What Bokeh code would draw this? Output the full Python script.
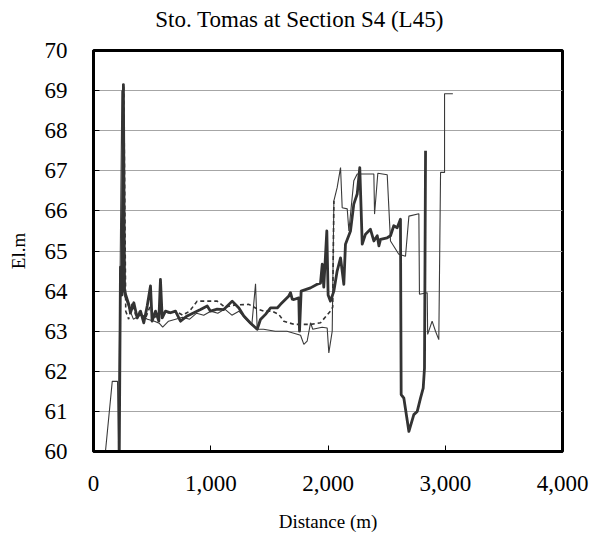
from bokeh.plotting import figure
from bokeh.models import Range1d, FixedTicker, NumeralTickFormatter, Label
from bokeh.embed import file_html
from bokeh.resources import INLINE

# ---- data ----
thin_x = [102, 160, 205, 212, 242, 262, 300, 340, 400, 460, 520, 560, 590, 640, 700, 760, 820, 880,
          940, 1000, 1060, 1120, 1180, 1240, 1300, 1350, 1382, 1396, 1450, 1550, 1650, 1709, 1766,
          1794, 1822, 1851, 1870, 1950, 1993, 2007, 2036, 2050, 2078, 2107, 2121, 2164, 2178, 2220,
          2249, 2391, 2397, 2425, 2505, 2533, 2604, 2661, 2690, 2775, 2780, 2846, 2850, 2888, 2917,
          2945, 2960, 2994, 2994, 3065]
thin_y = [60.0, 61.75, 61.75, 60.0, 69.0, 63.9, 63.6, 63.3, 63.4, 63.3, 63.25, 63.2, 63.1, 63.25,
          63.3, 63.35, 63.3, 63.45, 63.4, 63.5, 63.45, 63.55, 63.4, 63.5, 63.3, 63.15, 64.18, 63.05,
          63.05, 63.0, 63.0, 62.95, 62.9, 62.67, 62.75, 63.21, 63.05, 63.1, 63.08, 62.46, 63.0,
          66.25, 66.58, 67.08, 66.08, 66.05, 65.5, 66.75, 66.92, 66.92, 65.92, 66.94, 66.9, 65.25,
          64.92, 64.87, 65.87, 65.93, 63.92, 63.96, 62.92, 63.25, 63.0, 62.79, 66.96, 66.96,
          68.92, 68.92]

thick_x = [220, 230, 242, 255, 265, 273, 301, 315, 344, 373, 401, 429, 458, 486, 500, 529, 557, 571,
           586, 614, 657, 699, 742, 799, 856, 913, 970, 998, 1055, 1111, 1183, 1240, 1282, 1340,
           1396, 1424, 1467, 1510, 1567, 1595, 1666, 1680, 1695, 1709, 1751, 1757, 1771, 1851,
           1908, 1936, 1951, 1964, 1990, 2001, 2021, 2050, 2078, 2107, 2135, 2149, 2192, 2220,
           2249, 2271, 2292, 2320, 2362, 2391, 2420, 2434, 2448, 2505, 2533, 2561, 2590, 2618,
           2624, 2647, 2690, 2732, 2761, 2789, 2812, 2823, 2832]
thick_y = [60.0, 64.6, 63.9, 69.15, 64.0, 63.92, 63.67, 63.46, 63.71, 63.33, 63.5, 63.21, 63.63,
           64.13, 63.25, 63.5, 63.25, 64.29, 63.33, 63.5, 63.46, 63.5, 63.25, 63.38, 63.46, 63.54,
           63.63, 63.5, 63.55, 63.54, 63.75, 63.58, 63.38, 63.2, 63.05, 63.29, 63.42, 63.58, 63.58,
           63.67, 63.88, 63.96, 63.8, 63.79, 63.83, 63.0, 64.0, 64.08, 64.17, 64.2, 64.67, 64.1,
           65.5, 63.9, 63.75, 64.0, 64.5, 64.83, 64.17, 65.17, 65.5, 66.17, 66.42, 67.08, 65.17,
           65.42, 65.54, 65.25, 65.38, 65.13, 65.29, 65.33, 65.38, 65.63, 65.58, 65.79, 61.42,
           61.33, 60.5, 60.92, 61.0, 61.33, 61.58, 62.08, 67.5]

dash_x = [258, 275, 300, 330, 360, 400, 440, 480, 520, 560, 600, 650, 700, 760, 820, 884, 1055,
          1120, 1200, 1325, 1400, 1453, 1520, 1580, 1623, 1709, 1851, 1936, 2021, 2040, 2050]
dash_y = [69.1, 63.5, 63.3, 63.7, 63.4, 63.5, 63.3, 63.6, 63.35, 63.4, 63.5, 63.45, 63.5, 63.4,
          63.5, 63.75, 63.75, 63.6, 63.65, 63.67, 63.55, 63.5, 63.5, 63.42, 63.25, 63.17, 63.17,
          63.21, 63.5, 63.6, 66.25]

x_ticks = [0, 1000, 2000, 3000, 4000]
y_ticks = [60, 61, 62, 63, 64, 65, 66, 67, 68, 69, 70]
title_text = "Sto. Tomas at Section S4 (L45)"
x_label = "Distance (m)"
y_label = "El.m"

FONT = "Liberation Serif"

p = figure(width=595, height=540, output_backend="svg", toolbar_location=None,
           x_range=Range1d(0, 4000), y_range=Range1d(60, 70),
           min_border_left=93, min_border_right=33, min_border_top=50, min_border_bottom=89)
p.title = None
p.background_fill_color = "white"
p.border_fill_color = "white"
p.outline_line_color = "black"
p.outline_line_width = 3

p.xgrid.visible = False
p.ygrid.ticker = FixedTicker(ticks=y_ticks)
p.ygrid.grid_line_color = "#a6a6a6"
p.ygrid.grid_line_width = 1.2

p.xaxis.ticker = FixedTicker(ticks=x_ticks)
p.xaxis.formatter = NumeralTickFormatter(format="0,0")
p.yaxis.ticker = FixedTicker(ticks=y_ticks)

for ax in (p.xaxis, p.yaxis):
    ax.axis_line_color = "black"
    ax.axis_line_width = 3
    ax.major_tick_in = 6
    ax.major_tick_out = 0
    ax.major_tick_line_color = "black"
    ax.major_tick_line_width = 1
    ax.minor_tick_line_color = None
    ax.major_label_text_font = FONT
    ax.major_label_text_font_size = "23px"
    ax.major_label_text_color = "black"
    ax.axis_label_text_font = FONT
    ax.axis_label_text_font_size = "19px"
    ax.axis_label_text_font_style = "normal"
    ax.axis_label_text_color = "black"

p.xaxis.axis_label = x_label
p.yaxis.axis_label = y_label
p.xaxis.major_label_standoff = 24
p.xaxis.axis_label_standoff = 17
p.yaxis.major_label_standoff = 26
p.yaxis.axis_label_standoff = 13

p.line(thin_x, thin_y, line_color="#3a3a3a", line_width=1.1)
p.line(dash_x, dash_y, line_color="#333333", line_width=1.6, line_dash="4 3")
p.line(thick_x, thick_y, line_color="#333333", line_width=2.8, line_join="round")

p.add_layout(Label(x=206, y=31, x_units="screen", y_units="screen", text=title_text,
                   text_align="center", text_baseline="middle", text_font=FONT,
                   text_font_size="23px", text_color="black"), "above")

open("out.html", "w").write(file_html(p, INLINE))
